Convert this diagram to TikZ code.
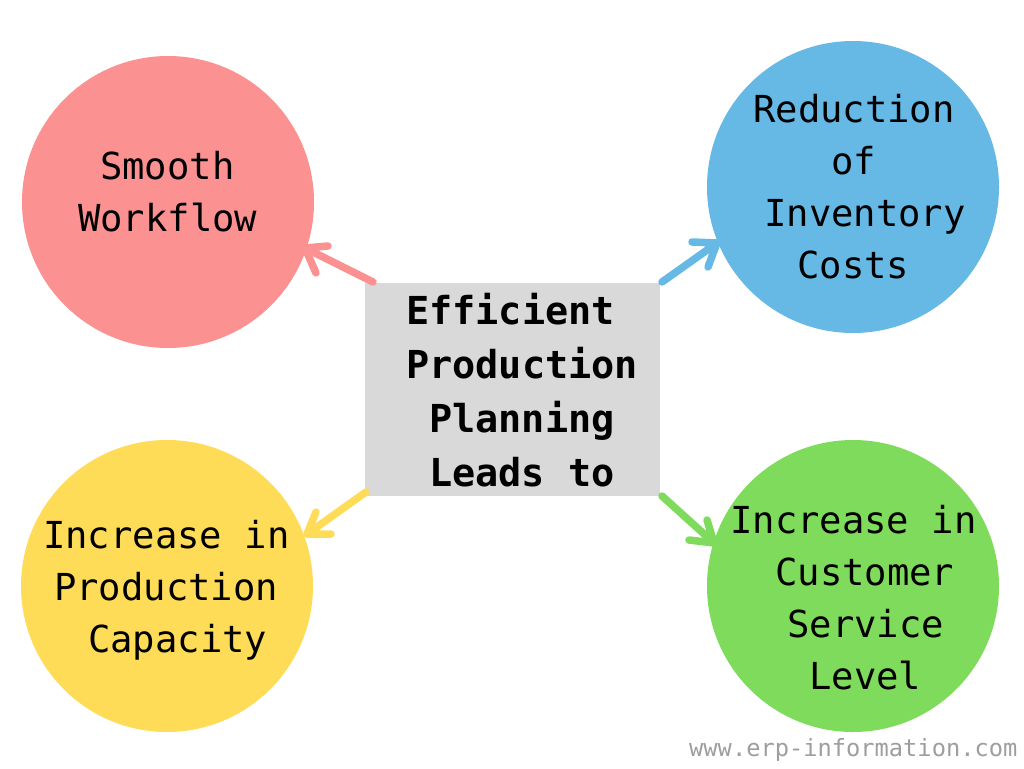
\documentclass[tikz,border=0pt]{standalone}
\usepackage{fontspec}
\setmainfont{DejaVu Sans Mono}
\definecolor{cred}{HTML}{FC9191}
\definecolor{cblue}{HTML}{66B9E5}
\definecolor{cyellow}{HTML}{FFDC58}
\definecolor{cgreen}{HTML}{7FDB5B}
\definecolor{cbox}{HTML}{D9D9D9}
\tikzset{
 x=1pt,y=-1pt,
 circ/.style={circle,minimum size=292pt,inner sep=0pt,outer sep=0pt},
 lab/.style={inner sep=0pt,anchor=base west,font=\fontsize{37.2}{37.2}\selectfont},
 blab/.style={inner sep=0pt,anchor=base west,font=\fontsize{38.5}{38.5}\selectfont\bfseries},
 conn/.style={line width=7.5pt,line cap=round,line join=round},
}
\begin{document}
\begin{tikzpicture}
\useasboundingbox (0,0) rectangle (1024,768);
\fill[white] (0,0) rectangle (1024,768);
\node[circ,fill=cred] (a) at (168,202) {};
\node[circ,fill=cblue] (b) at (853,187) {};
\node[circ,fill=cyellow] (c) at (167,586) {};
\node[circ,fill=cgreen] (d) at (853,586) {};
\node[fill=cbox,minimum width=295pt,minimum height=213pt,inner sep=0pt,outer sep=0pt] (m) at (512,389) {};
\coordinate (m1) at (373,282);
\coordinate (a1) at (305,248);
\coordinate (a2) at (328,246);
\coordinate (a3) at (316,273);
\coordinate (m2) at (662,282);
\coordinate (b1) at (717,243);
\coordinate (b2) at (692,242);
\coordinate (b3) at (708,267);
\coordinate (m3) at (366,492);
\coordinate (c1) at (307,534);
\coordinate (c2) at (331,534);
\coordinate (c3) at (316,512);
\coordinate (m4) at (662,496);
\coordinate (d1) at (714,543);
\coordinate (d2) at (707,520);
\coordinate (d3) at (689,540);
\draw[conn,cred] (m1) -- (a1) (a2) -- (a1) -- (a3);
\draw[conn,cblue] (m2) -- (b1) (b2) -- (b1) -- (b3);
\draw[conn,cyellow] (m3) -- (c1) (c2) -- (c1) -- (c3);
\draw[conn,cgreen] (m4) -- (d1) (d2) -- (d1) -- (d3);
\node[lab] (t1) at (100,179.5) {Smooth};
\node[lab] (t2) at (78,231.5) {Workflow};
\node[lab] (t3) at (753,122.5) {Reduction};
\node[lab] (t4) at (831,174.5) {of};
\node[lab] (t5) at (764,226.5) {Inventory};
\node[lab] (t6) at (797,278.5) {Costs};
\node[lab] (t7) at (43,548.5) {Increase in};
\node[lab] (t8) at (54,600.5) {Production};
\node[lab] (t9) at (88,652.5) {Capacity};
\node[lab] (t10) at (730,533.5) {Increase in};
\node[lab] (t11) at (775,585.5) {Customer};
\node[lab] (t12) at (787,637.5) {Service};
\node[lab] (t13) at (809,689.5) {Level};
\node[blab] (t14) at (406,324) {Efficient};
\node[blab] (t15) at (406,378) {Production};
\node[blab] (t16) at (429,432) {Planning};
\node[blab] (t17) at (429,486) {Leads to};
\node[inner sep=0pt,anchor=base west,font=\fontsize{23.7}{23.7}\selectfont,text=black!38] (w) at (689,756) {www.erp-information.com};
\end{tikzpicture}
\end{document}
